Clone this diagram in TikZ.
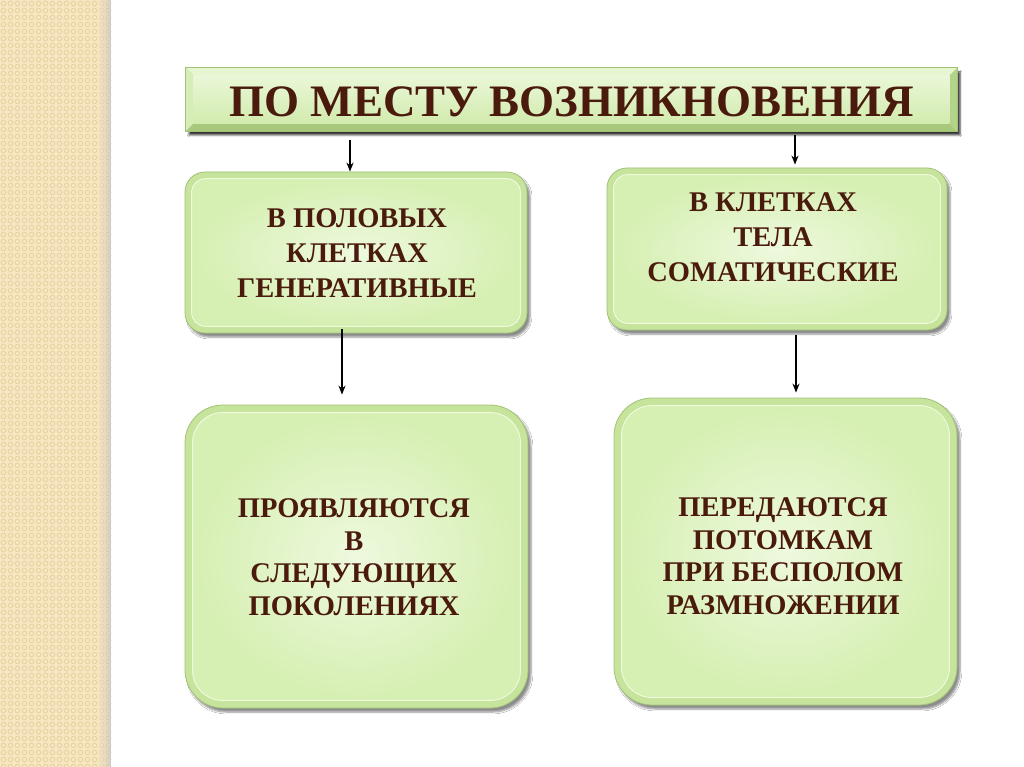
\documentclass[tikz,border=0pt]{standalone}
\usepackage{fontspec}
\setmainfont{Liberation Serif}
\usetikzlibrary{shadows.blur,arrows.meta,calc}
\definecolor{txt}{HTML}{4A1A0C}
\definecolor{rim}{HTML}{C6E49C}
\definecolor{rimline}{HTML}{A2C278}
\definecolor{facein}{HTML}{EEF9DE}
\definecolor{faceout}{HTML}{D6EFB2}
\definecolor{strip}{HTML}{F7E6C2}
\definecolor{dots}{HTML}{EAD3A2}
\definecolor{bevT}{HTML}{E6F6D0}
\definecolor{bevL}{HTML}{D6EDB8}
\definecolor{bevB}{HTML}{A8C97C}
\definecolor{bevR}{HTML}{B4D38A}
\definecolor{tface}{HTML}{EAF7D8}
\definecolor{tfaceb}{HTML}{D2EBAE}
\tikzset{
  box/.style={draw=rimline, line width=0.8pt, fill=rim, rounded corners=#1, inner sep=0pt,
    blur shadow={shadow xshift=3pt, shadow yshift=-4pt, shadow blur steps=6, shadow opacity=45}},
  face/.style={rounded corners=#1, inner color=facein, outer color=faceout, draw=facein, line width=1pt},
  lbl/.style={text=txt, font=\bfseries\fontsize{28.5}{35}\selectfont, align=center, inner sep=0pt},
  lblb/.style={text=txt, font=\bfseries\fontsize{28.5}{32.5}\selectfont, align=center, inner sep=0pt},
  arr/.style={draw=black, line width=1.8pt, -{Stealth[length=9pt,width=7pt]}},
}
\begin{document}
\begin{tikzpicture}[x=1pt,y=-1pt]
\useasboundingbox (0,0) rectangle (1024,767);
\fill[white] (0,0) rectangle (1024,767);
% left patterned strip
\fill[strip] (0,0) rectangle (110,767);
\foreach \i in {0,...,15} {
  \foreach \j in {0,...,110} {
    \draw[dots, line width=0.9pt] ({3.5+\i*7},{3.5+\j*7}) circle (2.3);
  }
}
\shade[left color=strip, right color=black!25, opacity=0.5] (98,0) rectangle (110,767);
\draw[black!20, line width=0.6pt] (110.5,0) -- (110.5,767);

% title box
\node[minimum width=771pt, minimum height=63pt, inner sep=0pt, fill=rim, draw=rimline, line width=0.8pt,
  blur shadow={shadow xshift=3pt, shadow yshift=-4pt, shadow blur steps=4, shadow opacity=80}] (T) at (571.5,99.5) {};
\fill[bevT] (T.north west) -- (T.north east) -- ($(T.north east)+(-8,8)$) -- ($(T.north west)+(8,8)$) -- cycle;
\fill[bevL] (T.north west) -- ($(T.north west)+(8,8)$) -- ($(T.south west)+(8,-8)$) -- (T.south west) -- cycle;
\fill[bevB] (T.south west) -- ($(T.south west)+(8,-8)$) -- ($(T.south east)+(-8,-8)$) -- (T.south east) -- cycle;
\fill[bevR] (T.south east) -- ($(T.south east)+(-8,-8)$) -- ($(T.north east)+(-8,8)$) -- (T.north east) -- cycle;
\shade[top color=tface, bottom color=tfaceb] ($(T.north west)+(8,8)$) rectangle ($(T.south east)+(-8,-8)$);
\draw[rimline, line width=0.8pt] (T.north west) rectangle (T.south east);
\node[text=txt, font=\bfseries\fontsize{45}{50}\selectfont, inner sep=0pt] (Tt) at (571.5,102) {ПО МЕСТУ ВОЗНИКНОВЕНИЯ};

% boxes
\node[box=20pt, minimum width=342pt, minimum height=161pt] (A) at (356,252.5) {};
\path[face=14pt] ($(A.north west)+(7,7)$) rectangle ($(A.south east)+(-7,-7)$);
\node[box=20pt, minimum width=340pt, minimum height=162pt] (B) at (777,249) {};
\path[face=14pt] ($(B.north west)+(7,7)$) rectangle ($(B.south east)+(-7,-7)$);
\node[box=38pt, minimum width=343pt, minimum height=303pt] (C) at (356.5,556.5) {};
\path[face=30pt] ($(C.north west)+(8,8)$) rectangle ($(C.south east)+(-8,-8)$);
\node[box=38pt, minimum width=343pt, minimum height=307pt] (D) at (785.5,551.5) {};
\path[face=30pt] ($(D.north west)+(8,8)$) rectangle ($(D.south east)+(-8,-8)$);

% labels
\node[lbl] (tA) at (357,253) {В ПОЛОВЫХ\\КЛЕТКАХ\\ГЕНЕРАТИВНЫЕ};
\node[lbl] (tB) at (773,237) {В КЛЕТКАХ\\ТЕЛА\\СОМАТИЧЕСКИЕ};
\node[lblb] (tC) at (354,557) {ПРОЯВЛЯЮТСЯ\\В\\СЛЕДУЮЩИХ\\ПОКОЛЕНИЯХ};
\node[lblb] (tD) at (783,556) {ПЕРЕДАЮТСЯ\\ПОТОМКАМ\\ПРИ БЕСПОЛОМ\\РАЗМНОЖЕНИИ};

% arrows
\draw[arr] ([yshift=-9pt]T.south -| 350,0) -- (A.north -| 350,0);
\draw[arr, shorten >=3pt] ([yshift=-4pt]T.south -| 795,0) -- (B.north -| 795,0);
\draw[arr, shorten >=10pt] ([yshift=4pt]A.south -| 342,0) -- (C.north -| 342,0);
\draw[arr, shorten >=5pt] ([yshift=-5pt]B.south -| 796,0) -- (D.north -| 796,0);
\end{tikzpicture}
\end{document}
